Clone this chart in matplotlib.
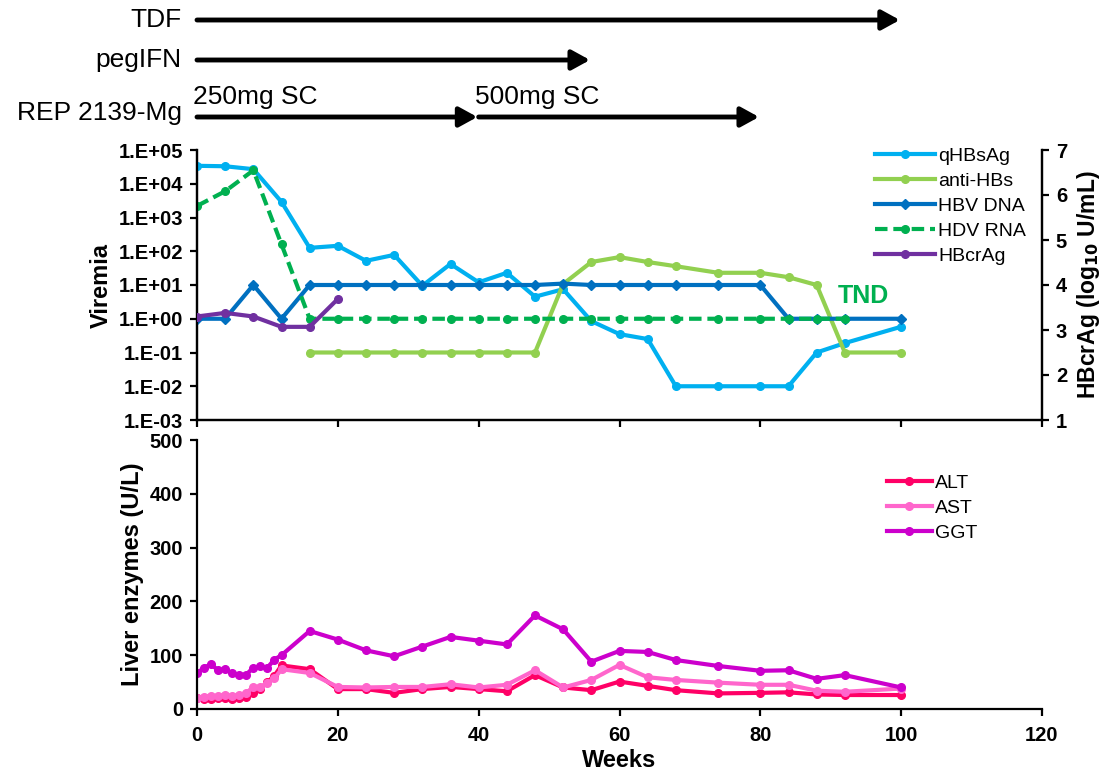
import matplotlib
matplotlib.use('Agg')
import matplotlib.pyplot as plt
from matplotlib.ticker import FixedLocator, NullFormatter

plt.rcParams['font.family'] = ['Liberation Sans', 'DejaVu Sans']

# ---- data ----
weeks_v = [0, 4, 8, 12, 16, 20, 24, 28, 32, 36, 40, 44, 48, 52, 56, 60, 64, 68, 74, 80, 84, 88, 92, 100]
qhbsag = [3.4e4, 3.3e4, 2.7e4, 2.9e3, 126, 145, 52, 78, 9.5, 42, 12, 23, 4.5, 7.5,
          0.85, 0.35, 0.25, 0.01, 0.01, 0.01, 0.01, 0.1, 0.19, 0.58]
hbv_dna = [1, 1, 10, 1, 10, 10, 10, 10, 10, 10, 10, 10, 10, 11, 10, 10, 10, 10, 10, 10, 1, 1, 1, 1]

weeks_anti = [16, 20, 24, 28, 32, 36, 40, 44, 48, 52, 56, 60, 64, 68, 74, 80, 84, 88, 92, 100]
anti_hbs = [0.1, 0.1, 0.1, 0.1, 0.1, 0.1, 0.1, 0.1, 0.1, 10.7, 48, 67, 48, 36, 23, 23, 17, 10, 0.1, 0.1]

weeks_hdv = [0, 4, 8, 12, 16, 20, 24, 28, 32, 36, 40, 44, 48, 52, 56, 60, 64, 68, 74, 80, 84, 88, 92]
hdv_rna = [2200, 6000, 2.5e4, 160, 1, 1, 1, 1, 1, 1, 1, 1, 1, 1, 1, 1, 1, 1, 1, 1, 1, 1, 1]

weeks_crag = [0, 4, 8, 12, 16, 20]
hbcrag = [3.3, 3.38, 3.3, 3.07, 3.07, 3.69]

weeks_le = [0, 1, 2, 3, 4, 5, 6, 7, 8, 9, 10, 11, 12, 16, 20, 24, 28, 32, 36, 40, 44, 48,
            52, 56, 60, 64, 68, 74, 80, 84, 88, 92, 100]
alt = [20, 19, 19, 20, 20, 19, 20, 22, 29, 38, 50, 62, 81, 74, 37, 37, 30, 37, 41, 37, 33, 63,
       40, 35, 51, 43, 35, 29, 30, 31, 27, 26, 26]
ast = [20, 23, 24, 24, 26, 24, 26, 30, 41, 41, 48, 57, 74, 67, 41, 40, 41, 41, 46, 40, 45, 72,
       40, 54, 82, 59, 54, 49, 45, 45, 34, 32, 38]
ggt = [66, 77, 83, 72, 74, 66, 63, 64, 77, 79, 77, 92, 100, 145, 129, 109, 98, 116, 134, 127, 120, 174,
       148, 88, 108, 106, 91, 80, 71, 72, 56, 63, 40]

vir_ticks = [1e-3, 1e-2, 1e-1, 1e0, 1e1, 1e2, 1e3, 1e4, 1e5]
vir_labels = ['1.E-03', '1.E-02', '1.E-01', '1.E+00', '1.E+01', '1.E+02', '1.E+03', '1.E+04', '1.E+05']

# treatment bars (start, end week)
treatments = ['TDF', 'pegIFN', 'REP 2139-Mg']
tdf_span = (0, 100)
peg_span = (0, 56)
rep_spans = [(0, 40), (40, 80)]
rep_doses = ['250mg SC', '500mg SC']

c_qhbsag = '#00B0F0'
c_anti = '#92D050'
c_dna = '#0070C0'
c_hdv = '#00B050'
c_crag = '#7030A0'
c_alt = '#FF0066'
c_ast = '#FF66CC'
c_ggt = '#CC00CC'

W, H = 1103, 776
fig = plt.figure(figsize=(W / 100, H / 100), dpi=100)

L = 197 / W
AW = (1042 - 197) / W
ax1 = fig.add_axes([L, 1 - 420 / H, AW, 270 / H])
ax3 = fig.add_axes([L, 1 - 709 / H, AW, 269 / H])
axa = fig.add_axes([L, 1 - 130 / H, AW, 130 / H])

lw = 3.0
ms = 5.5
tfs = 14.5
lfs = 17

# ---- upper panel ----
ax1.plot(weeks_v, qhbsag, color=c_qhbsag, lw=lw, marker='o', ms=ms, label='qHBsAg', zorder=3)
ax1.plot(weeks_anti, anti_hbs, color=c_anti, lw=lw, marker='o', ms=ms, label='anti-HBs', zorder=3)
ax1.plot(weeks_v, hbv_dna, color=c_dna, lw=lw, marker='D', ms=ms, label='HBV DNA', zorder=3)
ax1.plot(weeks_hdv, hdv_rna, color=c_hdv, lw=lw, marker='o', ms=ms, dashes=(3, 1.4),
         label='HDV RNA', zorder=3)
ax1.set_yscale('log')
ax1.set_ylim(1e-3, 1e5)
ax1.set_xlim(0, 120)
ax1.yaxis.set_major_locator(FixedLocator(vir_ticks))
ax1.set_yticklabels(vir_labels)
ax1.yaxis.set_minor_formatter(NullFormatter())
ax1.tick_params(axis='y', which='minor', left=False)
ax1.set_xticks([0, 20, 40, 60, 80, 100, 120])
ax1.set_xticklabels([])
ax1.set_ylabel('Viremia', fontsize=lfs, fontweight='bold', labelpad=4)
ax1.text(94.7, 4.7, 'TND', color=c_hdv, fontsize=18, fontweight='bold', ha='center', va='center')

ax2 = ax1.twinx()
ax2.plot(weeks_crag, hbcrag, color=c_crag, lw=lw, marker='o', ms=ms, label='HBcrAg', zorder=3)
ax2.set_ylim(1, 7)
ax2.set_yticks([1, 2, 3, 4, 5, 6, 7])
ax2.set_ylabel('HBcrAg (log$_{\\mathbf{10}}$ U/mL)', fontsize=16.5, fontweight='bold', labelpad=6)

for a in (ax1, ax2):
    a.spines['top'].set_visible(False)
    for s in a.spines.values():
        s.set_linewidth(1.6)
    a.tick_params(width=1.6, length=5, labelsize=tfs, pad=5, direction='out')
    for t in a.get_yticklabels():
        t.set_fontweight('bold')

h1, l1 = ax1.get_legend_handles_labels()
h2, l2 = ax2.get_legend_handles_labels()
ax2.legend(h1 + h2, l1 + l2, loc='upper left', bbox_to_anchor=(875 / W, 1 - 147 / H),
           bbox_transform=fig.transFigure, frameon=False, fontsize=14, handlelength=3.1,
           handletextpad=0.15, labelspacing=0.38, borderpad=0, borderaxespad=0)

# ---- lower panel ----
ax3.plot(weeks_le, alt, color=c_alt, lw=lw, marker='o', ms=ms, label='ALT')
ax3.plot(weeks_le, ast, color=c_ast, lw=lw, marker='o', ms=ms, label='AST')
ax3.plot(weeks_le, ggt, color=c_ggt, lw=lw, marker='o', ms=ms, label='GGT')
ax3.set_xlim(0, 120)
ax3.set_ylim(0, 500)
ax3.set_xticks([0, 20, 40, 60, 80, 100, 120])
ax3.set_yticks([0, 100, 200, 300, 400, 500])
ax3.spines['top'].set_visible(False)
ax3.spines['right'].set_visible(False)
for s in ax3.spines.values():
    s.set_linewidth(1.6)
ax3.tick_params(width=1.6, length=5, labelsize=tfs, pad=5, direction='out')
ax3.tick_params(axis='x', pad=7)
for t in ax3.get_xticklabels() + ax3.get_yticklabels():
    t.set_fontweight('bold')
ax3.set_xlabel('Weeks', fontsize=lfs, fontweight='bold', labelpad=3)
ax3.set_ylabel('Liver enzymes (U/L)', fontsize=lfs, fontweight='bold', labelpad=4)
ax3.legend(loc='upper left', bbox_to_anchor=(887 / W, 1 - 474 / H),
           bbox_transform=fig.transFigure, frameon=False, fontsize=14, handlelength=2.3,
           handletextpad=0.15, labelspacing=0.38, borderpad=0, borderaxespad=0)

# ---- treatment arrows ----
axa.set_xlim(0, 120)
axa.set_ylim(130, 0)
axa.axis('off')
row_y = [20, 60, 117]
aprops = dict(arrowstyle='-|>,head_length=0.6,head_width=0.33', lw=3.5, color='black',
              mutation_scale=18, shrinkA=0, shrinkB=1)
axa.annotate('', xy=(tdf_span[1], row_y[0]), xytext=(tdf_span[0], row_y[0]), arrowprops=aprops)
axa.annotate('', xy=(peg_span[1], row_y[1]), xytext=(peg_span[0], row_y[1]), arrowprops=aprops)
for (s, e), dose in zip(rep_spans, rep_doses):
    axa.annotate('', xy=(e, row_y[2]), xytext=(s, row_y[2]), arrowprops=aprops)
    axa.text(s - 0.5, 97, dose, fontsize=19, ha='left', va='center', clip_on=False)
for name, y in zip(treatments, row_y):
    axa.text(-2.2, y - (4 if name.startswith('REP') else 0), name, fontsize=19,
             ha='right', va='center', clip_on=False)

fig.savefig('out.png', dpi=100)
